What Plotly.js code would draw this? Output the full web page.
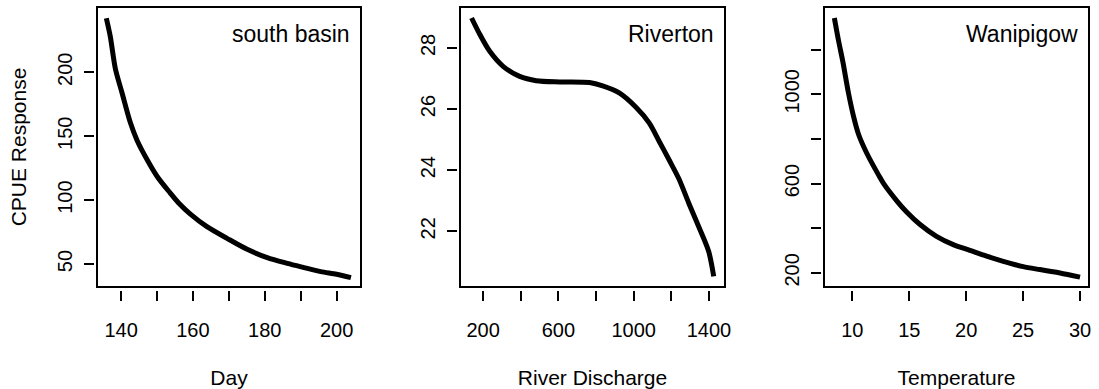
<!DOCTYPE html>
<html>
<head>
<meta charset="utf-8">
<script src="https://cdn.plot.ly/plotly-3.0.1.min.js"></script>
<style>html,body{margin:0;padding:0;background:#fff;}#chart{width:1099px;height:389px;}</style>
</head>
<body>
<div id="chart"></div>
<script>
// Panel 1: south basin, CPUE response vs Day
const dayX = [135.9, 137.0, 138.4, 140.3, 142.6, 144.5, 147.3, 150.1, 153.7, 156.1, 159.3, 163.9, 169.5, 175.1, 180.7, 186.3, 190.5, 195.6, 200.0, 204.0];
const dayY = [242.3, 228.0, 203.0, 183.6, 160.5, 146.5, 131.4, 118.3, 105.5, 97.5, 89.0, 79.2, 70.1, 61.5, 55.0, 50.5, 47.5, 44.0, 42.0, 39.3];

// Panel 2: Riverton, CPUE response vs River Discharge
const dischX = [138.6, 182.5, 235, 306, 394, 482, 606, 765, 835, 923, 1012, 1082, 1135, 1187, 1240, 1292, 1345, 1398, 1425];
const dischY = [28.98, 28.44, 27.89, 27.40, 27.07, 26.93, 26.89, 26.87, 26.76, 26.53, 26.06, 25.55, 24.95, 24.35, 23.72, 22.93, 22.16, 21.35, 20.53];

// Panel 3: Wanipigow, CPUE response vs Temperature
const tempX = [8.42, 8.8, 9.15, 9.67, 10.11, 10.55, 11.28, 12.31, 12.75, 13.92, 14.75, 15.92, 17.39, 18.86, 20.32, 21.79, 23.26, 25.01, 26.48, 28.24, 30.0];
const tempY = [1342, 1237, 1150, 1003, 900, 820, 735, 638, 600, 522, 474, 418, 364, 327, 301, 275, 252, 228, 215, 200, 181];

// Tick values and labels
const dayTicks = [140, 150, 160, 170, 180, 190, 200];
const dayTickText = ['140', '', '160', '', '180', '', '200'];
const cpue1Ticks = [50, 100, 150, 200];
const dischTicks = [200, 400, 600, 800, 1000, 1200, 1400];
const dischTickText = ['200', '', '600', '', '1000', '', '1400'];
const cpue2Ticks = [22, 24, 26, 28];
const tempTicks = [10, 15, 20, 25, 30];
const cpue3Ticks = [200, 400, 600, 800, 1000, 1200];
const cpue3TickText = ['200', '', '600', '', '1000', ''];

const panelNames = ['south basin', 'Riverton', 'Wanipigow'];
const xTitles = ['Day', 'River Discharge', 'Temperature'];
const yTitle = 'CPUE Response';

const W = 1099, H = 389;
const xDom = [[97 / W, 361 / W], [460 / W, 725 / W], [824 / W, 1089 / W]];
const yDom = [1 - 287 / H, 1 - 7 / H];
const gapX = 3 / W, gapY = 3 / H;
const FONT = '"Liberation Sans", Arial, Helvetica, sans-serif';

const lineStyle = {color: '#000', width: 5, shape: 'spline', smoothing: 0.8};
const traces = [
  {x: dayX, y: dayY, xaxis: 'x', yaxis: 'y', mode: 'lines', line: lineStyle, hoverinfo: 'skip'},
  {x: dischX, y: dischY, xaxis: 'x2', yaxis: 'y2', mode: 'lines', line: lineStyle, hoverinfo: 'skip'},
  {x: tempX, y: tempY, xaxis: 'x3', yaxis: 'y3', mode: 'lines', line: lineStyle, hoverinfo: 'skip'}
];

function xAx(i, range, tv, tt, title) {
  return {
    domain: xDom[i], anchor: 'free', position: yDom[0] - gapY,
    range: range, tickmode: 'array', tickvals: tv, ticktext: tt,
    ticks: 'outside', ticklen: 10, tickwidth: 2, tickcolor: '#000',
    showline: false, showgrid: false, zeroline: false,
    tickfont: {family: FONT, size: 20, color: '#000'},
    ticklabelstandoff: 12,
    title: {text: title, font: {family: FONT, size: 21, color: '#000'}, standoff: 31}
  };
}
function yAx(i, range, tv, tt, title) {
  return {
    domain: yDom, anchor: 'free', position: xDom[i][0] - gapX,
    range: range, tickmode: 'array', tickvals: tv, ticktext: tt,
    ticks: 'outside', ticklen: 10, tickwidth: 2, tickcolor: '#000',
    showline: false, showgrid: false, zeroline: false,
    tickangle: -90,
    tickfont: {family: FONT, size: 20, color: '#000'},
    ticklabelstandoff: 4,
    title: {text: title || '', font: {family: FONT, size: 21, color: '#000'}, standoff: 20}
  };
}

const shapes = [];
const annotations = [];
const xrefs = ['x', 'x2', 'x3'], yrefs = ['y', 'y2', 'y3'];
for (let i = 0; i < 3; i++) {
  shapes.push({type: 'rect', xref: xrefs[i] + ' domain', yref: yrefs[i] + ' domain',
    x0: 0, x1: 1, y0: 0, y1: 1, line: {color: '#000', width: 2}});
  annotations.push({text: panelNames[i], xref: xrefs[i] + ' domain', yref: yrefs[i] + ' domain',
    x: 1 - 9 / 264, y: 1 - 27 / 280, xanchor: 'right', yanchor: 'middle', showarrow: false,
    font: {family: FONT, size: 23, color: '#000'}});
}

const layout = {
  width: W, height: H,
  margin: {l: 0, r: 0, t: 0, b: 0},
  paper_bgcolor: '#fff', plot_bgcolor: '#fff',
  showlegend: false,
  xaxis: xAx(0, [133.3, 206.8], dayTicks, dayTickText, xTitles[0]),
  xaxis2: xAx(1, [77, 1485], dischTicks, dischTickText, xTitles[1]),
  xaxis3: xAx(2, [7.51, 30.79], tempTicks, tempTicks.map(String), xTitles[2]),
  yaxis: yAx(0, [32, 251.1], cpue1Ticks, cpue1Ticks.map(String), yTitle),
  yaxis2: yAx(1, [20.18, 29.34], cpue2Ticks, cpue2Ticks.map(String), ''),
  yaxis3: yAx(2, [137, 1391], cpue3Ticks, cpue3TickText, ''),
  shapes: shapes,
  annotations: annotations
};

Plotly.newPlot('chart', traces, layout, {staticPlot: true, displayModeBar: false});
</script>
</body>
</html>
